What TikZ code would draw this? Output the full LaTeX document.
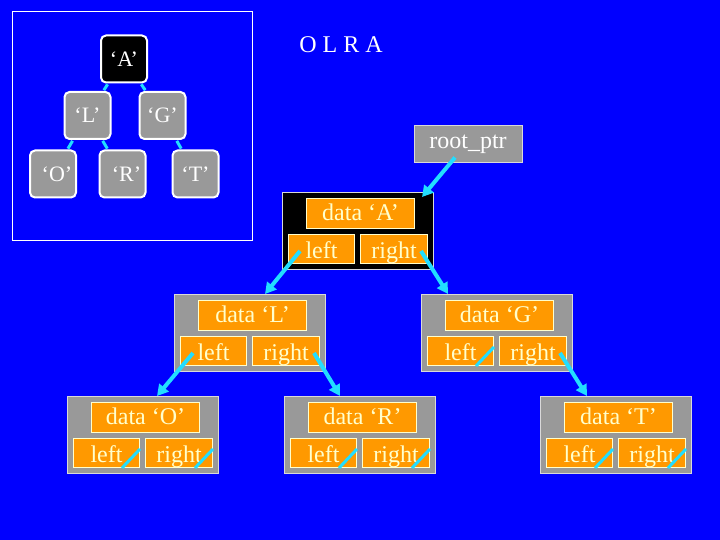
\documentclass[tikz,border=0pt]{standalone}
\usepackage{fontspec}
\setmainfont{Liberation Serif}
\usetikzlibrary{calc,arrows.meta}
\definecolor{slideblue}{RGB}{0,0,255}
\definecolor{boxgray}{RGB}{153,153,153}
\definecolor{recorange}{RGB}{255,153,0}
\definecolor{paleyellow}{RGB}{255,255,204}
\definecolor{linkcyan}{RGB}{34,221,255}
\tikzset{
  treenode/.style={draw=white, line width=2pt, rounded corners=5pt, fill=boxgray, minimum width=46pt, minimum height=47pt, inner sep=0pt, text=white, font=\fontsize{22}{24}\selectfont},
  outerbox/.style={draw=white!85!black, line width=1pt, minimum width=151pt, minimum height=77pt, inner sep=0pt, anchor=north west},
  fieldbox/.style={draw=paleyellow, line width=1pt, fill=recorange, text=paleyellow, inner sep=0pt, anchor=north west, font=\fontsize{24}{26}\selectfont},
  datafield/.style={fieldbox, text height=17pt, text depth=3pt, minimum height=30pt},
  ptrfield/.style={fieldbox, text height=20pt, text depth=1pt, minimum height=29pt},
  link/.style={linkcyan, line width=4pt, -{Triangle[length=11pt,width=12pt]}},
  nullptr/.style={linkcyan, line width=3pt},
  treeedge/.style={linkcyan, line width=3pt, shorten <=1pt, shorten >=1pt}
}
\def\record#1(#2)#3{%
  \node[outerbox, fill=#3] (rec#1) at (#2) {};
  \node[datafield, minimum width=108pt] (rec#1data) at ($(rec#1.north west)+(24,6)$) {data ‘#1’};
  \node[ptrfield, minimum width=66pt] (rec#1left) at ($(rec#1.north west)+(6,42)$) {left};
  \node[ptrfield, minimum width=67pt] (rec#1right) at ($(rec#1.north west)+(78,42)$) {right};
}

\begin{document}
\begin{tikzpicture}[x=1pt,y=-1pt]
	%%%%% START %%%%%
	
	\fill[slideblue] (0,0) rectangle (720,540);
	\useasboundingbox (0,0) rectangle (720,540);
	
	\draw[white, line width=1pt] (12,12) rectangle (252,240);
	
	\node[treenode, fill=black] (tA) at (124,59) {‘A’};
	\node[treenode] (tL) at (87.5,115.5) {‘L’};
	\node[treenode] (tG) at (162.5,115.5) {‘G’};
	\node[treenode] (tO) at (53,174) {\hspace{8pt}‘O’};
	\node[treenode] (tR) at (122.5,174) {\hspace{8pt}‘R’};
	\node[treenode] (tT) at (195.5,174) {‘T’};
	
	\draw[treeedge] (tA) -- (tL);
	\draw[treeedge] (tA) -- (tG);
	\draw[treeedge] (tL) -- (tO);
	\draw[treeedge] (tL) -- (tR);
	\draw[treeedge] (tG) -- (tT);
	
	\node[text=white, font=\fontsize{24}{26}\selectfont] (order) at (341,45) {O L R A};
	
	\node[draw=white!85!black, line width=1pt, fill=boxgray, text=white, minimum width=108pt, minimum height=37pt, inner sep=0pt, font=\fontsize{24}{26}\selectfont] (root) at (468,144.5) {root\_ptr};
	
	\record{A}(282,192){black}
	\record{L}(174,294){boxgray}
	\record{G}(421,294){boxgray}
	\record{O}(67,396){boxgray}
	\record{R}(284,396){boxgray}
	\record{T}(540,396){boxgray}
	
	\draw[link] ($(root.south)+(-13,-6)$) -- ($(recA.north east)+(-12,5)$);
	\draw[link] ($(recAleft.north west)+(12,17)$) -- ($(recL.north west)+(91,0)$);
	\draw[link] ($(recAright.north east)+(-7,17)$) -- ($(recG.north west)+(27,0)$);
	\draw[link] ($(recLleft.north west)+(13,17)$) -- ($(recO.north west)+(90,0)$);
	\draw[link] ($(recLright.north east)+(-6,17)$) -- ($(recR.north west)+(56,0)$);
	\draw[link] ($(recGright.north east)+(-7,17)$) -- ($(recT.north west)+(47,0)$);
	
	\draw[nullptr] ($(recGleft.south east)+(-18,0)$) -- ($(recGleft.south east)+(0,-19)$);
	\draw[nullptr] ($(recOleft.south east)+(-18,0)$) -- ($(recOleft.south east)+(0,-19)$);
	\draw[nullptr] ($(recOright.south east)+(-18,0)$) -- ($(recOright.south east)+(0,-19)$);
	\draw[nullptr] ($(recRleft.south east)+(-18,0)$) -- ($(recRleft.south east)+(0,-19)$);
	\draw[nullptr] ($(recRright.south east)+(-18,0)$) -- ($(recRright.south east)+(0,-19)$);
	\draw[nullptr] ($(recTleft.south east)+(-18,0)$) -- ($(recTleft.south east)+(0,-19)$);
	\draw[nullptr] ($(recTright.south east)+(-18,0)$) -- ($(recTright.south east)+(0,-19)$);
	
	%%%%% END %%%%%
\end{tikzpicture}
\end{document}
